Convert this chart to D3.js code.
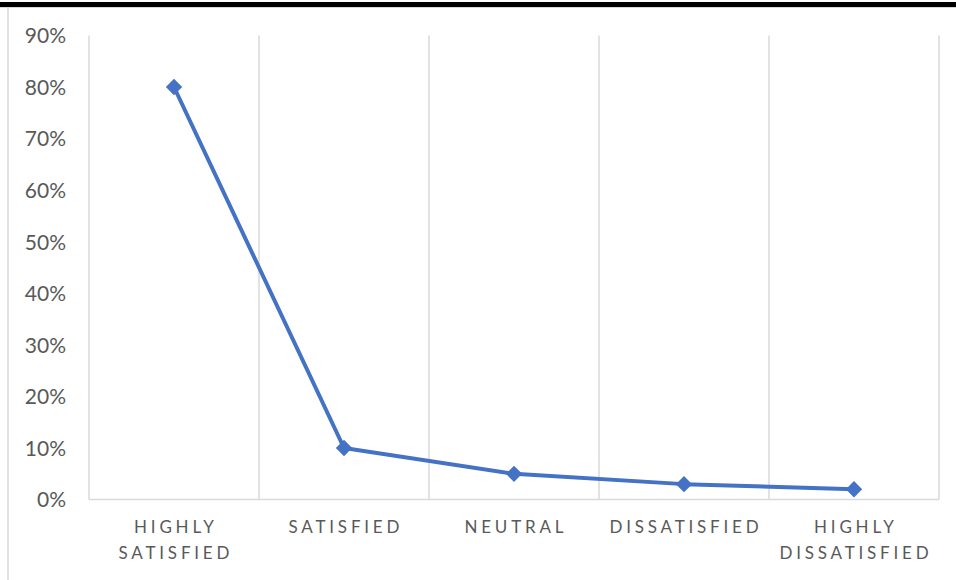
<!DOCTYPE html>
<html><head><meta charset="utf-8">
<script src="https://cdn.jsdelivr.net/npm/d3@7/dist/d3.min.js"></script>
<style>html,body{margin:0;padding:0;background:#fff;overflow:hidden}</style>
</head><body>
<svg id="c" width="956" height="580"></svg>
<script>
const categories = [["HIGHLY","SATISFIED"],["SATISFIED"],["NEUTRAL"],["DISSATISFIED"],["HIGHLY","DISSATISFIED"]];
const values = [0.80, 0.10, 0.05, 0.03, 0.02];
const yTicks = [0,0.1,0.2,0.3,0.4,0.5,0.6,0.7,0.8,0.9];

const svg = d3.select("#c");
const m = {left:89, right:939, top:35.4, bottom:499.6};
const keys = categories.map((d,i)=>i);
const x = d3.scaleBand().domain(keys).range([m.left,m.right]);
const y = d3.scaleLinear().domain([0,0.9]).range([m.bottom,m.top]);

// frame
svg.append("rect").attr("x",0).attr("y",2).attr("width",956).attr("height",5).attr("fill","#000");
svg.append("line").attr("x1",0).attr("x2",956).attr("y1",7.5).attr("y2",7.5).attr("stroke","#d9d9d9").attr("stroke-width",1);
svg.append("line").attr("x1",8).attr("x2",8).attr("y1",8).attr("y2",580).attr("stroke","#d9d9d9").attr("stroke-width",1.5);

// vertical gridlines
const bounds = keys.map(k=>x(k)).concat([m.right]);
svg.append("g").selectAll("line").data(bounds).join("line")
  .attr("x1",d=>d).attr("x2",d=>d).attr("y1",y(0.9)).attr("y2",y(0))
  .attr("stroke","#d9d9d9").attr("stroke-width",1.5);
svg.append("line").attr("x1",m.left).attr("x2",m.right).attr("y1",y(0)).attr("y2",y(0))
  .attr("stroke","#d9d9d9").attr("stroke-width",1.5);

// y axis labels
const yAxis = d3.axisLeft(y).tickValues(yTicks).tickFormat(d3.format(".0%")).tickSize(0).tickPadding(0);
const gy = svg.append("g").attr("transform","translate(66,0)").call(yAxis);
gy.select(".domain").remove();
gy.selectAll("text").attr("font-family","Lato, 'Open Sans', sans-serif").attr("font-size",21).attr("fill","#595959").attr("dy","0.35em");

// x labels
const gx = svg.append("g");
categories.forEach((lines,i)=>{
  const t = gx.append("text").attr("x",x(i)+x.bandwidth()/2).attr("y",533)
    .attr("text-anchor","middle").attr("font-family","Lato, 'Open Sans', sans-serif")
    .attr("font-size",17).attr("letter-spacing","3.8px").attr("fill","#595959");
  lines.forEach((l,j)=>{
    t.append("tspan").attr("x",x(i)+x.bandwidth()/2+1.9).attr("dy",j===0?0:26).text(l);
  });
});

// line
const cx = i=>x(i)+x.bandwidth()/2;
svg.append("path").datum(values)
  .attr("d",d3.line().x((d,i)=>cx(i)).y(d=>y(d)))
  .attr("fill","none").attr("stroke","#4472C4").attr("stroke-width",4).attr("stroke-linejoin","round");
svg.append("g").selectAll("path").data(values).join("path")
  .attr("d",d3.symbol().type(d3.symbolDiamond2).size(170))
  .attr("transform",(d,i)=>`translate(${cx(i)},${y(d)})`)
  .attr("fill","#4472C4");
</script>
</body></html>
